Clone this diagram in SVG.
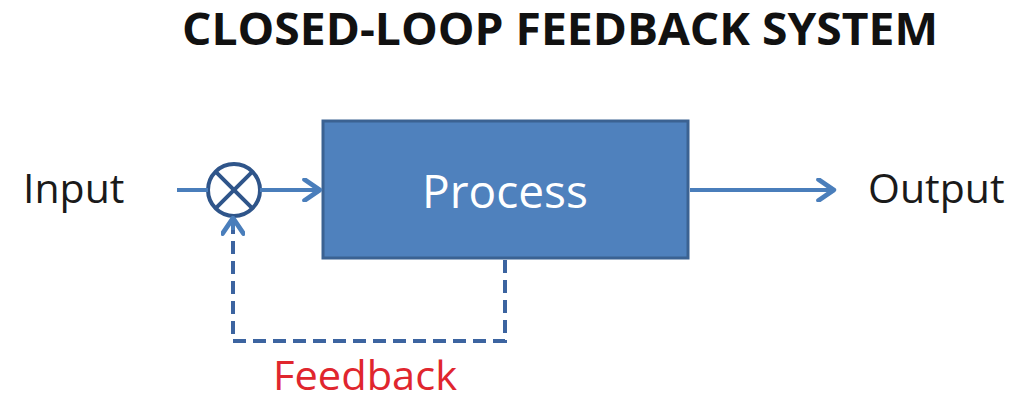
<svg xmlns="http://www.w3.org/2000/svg" width="1035" height="401" viewBox="0 0 1035 401">
<style>
.lbl{font-family:"Open Sans","Liberation Sans",sans-serif;fill:#1a1a1a}
.ln{stroke:#4A7EBB;stroke-width:4;fill:none}
.dash{stroke:#3C64A0;stroke-width:4;fill:none;stroke-dasharray:13 7}
</style>
<defs>
<marker id="ah" markerWidth="6" markerHeight="6" refX="4.2" refY="3" orient="auto" markerUnits="strokeWidth">
<path d="M0.6,0.4 L4.4,3 L0.6,5.6" fill="none" stroke="#4A7EBB" stroke-width="1.2" stroke-linecap="round" stroke-linejoin="round"/>
</marker>
</defs>
<rect width="1035" height="401" fill="#ffffff"/>
<text x="560" y="45" text-anchor="middle" font-family="'Open Sans','Liberation Sans',sans-serif" font-weight="bold" font-size="44" fill="#111" textLength="756" lengthAdjust="spacingAndGlyphs">CLOSED-LOOP FEEDBACK SYSTEM</text>
<g id="input"><text class="lbl" x="23" y="203" font-size="41">Input</text></g>
<g id="output"><text class="lbl" x="868" y="203" font-size="41">Output</text></g>
<g id="comparator">
<circle cx="234" cy="190" r="26" fill="#ffffff" stroke="#2F558A" stroke-width="4"/>
<line x1="215.6" y1="171.6" x2="252.4" y2="208.4" stroke="#2F558A" stroke-width="4"/>
<line x1="252.4" y1="171.6" x2="215.6" y2="208.4" stroke="#2F558A" stroke-width="4"/>
</g>
<g id="process">
<rect x="323" y="121" width="365" height="137" fill="#4F81BD" stroke="#3B6292" stroke-width="3"/>
<text x="505" y="208" text-anchor="middle" font-family="'Open Sans','Liberation Sans',sans-serif" font-size="46" fill="#ffffff">Process</text>
</g>
<g id="feedback-label"><text x="273" y="390" font-family="'Open Sans','Liberation Sans',sans-serif" font-size="41" fill="#E0262E" textLength="184" lengthAdjust="spacingAndGlyphs">Feedback</text></g>
<g id="connectors">
<line class="ln" x1="177" y1="190" x2="208" y2="190"/>
<line class="ln" x1="260" y1="190" x2="319" y2="190" marker-end="url(#ah)"/>
<line class="ln" x1="690" y1="190" x2="833" y2="190" marker-end="url(#ah)"/>
<path class="dash" d="M505,260 L505,341 L233,341 L233,222"/>
<line class="ln" x1="233" y1="230" x2="233" y2="219" marker-end="url(#ah)"/>
</g>
</svg>
